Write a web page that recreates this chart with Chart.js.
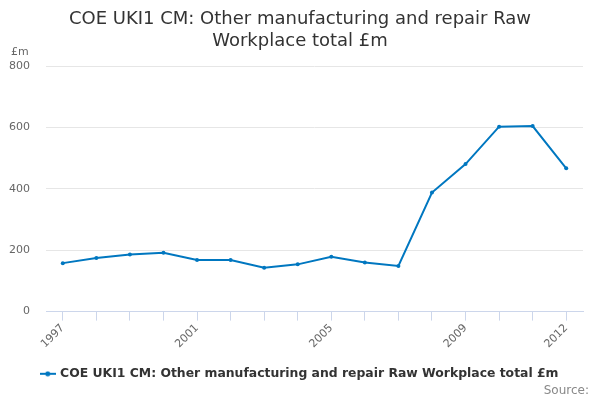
<!DOCTYPE html>
<html>
<head>
<meta charset="utf-8">
<script src="https://cdn.jsdelivr.net/npm/chart.js@4/dist/chart.umd.min.js"></script>
<style>
  body { margin: 0; background: #fff; }
  #wrap { width: 600px; height: 400px; position: relative; }
</style>
</head>
<body>
<div id="wrap"><canvas id="chart" width="600" height="400"></canvas></div>
<script>
// Chart data.
let years = ['1997', '1998', '1999', '2000', '2001', '2002', '2003', '2004',
             '2005', '2006', '2007', '2008', '2009', '2010', '2011', '2012'];
let workplaceTotal = [158, 175, 186, 192, 168, 168, 143, 154,
                      179, 160, 149, 388, 481, 603, 605, 467];
let yTicks = [0, 200, 400, 600, 800];
let seriesName = 'COE UKI1 CM: Other manufacturing and repair Raw Workplace total £m';

let lineColor = '#0077c0';
let fontFamily = '"DejaVu Sans", sans-serif';

// Legend marker: short line with a dot in the middle.
let marker = document.createElement('canvas');
marker.width = 16;
marker.height = 6;
let mctx = marker.getContext('2d');
mctx.strokeStyle = lineColor;
mctx.lineWidth = 2;
mctx.beginPath();
mctx.moveTo(0, 3);
mctx.lineTo(16, 3);
mctx.stroke();
mctx.fillStyle = lineColor;
mctx.beginPath();
mctx.arc(8, 3, 2.5, 0, Math.PI * 2);
mctx.fill();

// Draws the unit label above the y axis and the source note.
let extraText = {
  id: 'extraText',
  afterLayout(chart) {
    // centre title and legend on the whole canvas, not the padded box
    chart.legend.left += 6.5;
    chart.legend.right += 6.5;
    chart.titleBlock.left += 6.5;
    chart.titleBlock.right += 6.5;
  },
  afterDraw(chart) {
    let ctx = chart.ctx;
    let y = chart.scales.y;
    ctx.save();
    ctx.font = '11px ' + fontFamily;
    ctx.fillStyle = '#666';
    ctx.textAlign = 'left';
    ctx.textBaseline = 'middle';
    ctx.fillText('£m', 11, y.top - 14);
    ctx.font = '12px ' + fontFamily;
    ctx.fillStyle = '#888';
    ctx.textAlign = 'right';
    ctx.fillText('Source:', 589, 391);
    ctx.restore();
  }
};

let ctx = document.getElementById('chart');
let chart = new Chart(ctx, {
  type: 'line',
  data: {
    labels: years,
    datasets: [{
      label: seriesName,
      data: workplaceTotal,
      borderColor: lineColor,
      backgroundColor: lineColor,
      borderWidth: 2,
      pointRadius: 2,
      pointBackgroundColor: lineColor,
      pointBorderWidth: 0,
      tension: 0,
      fill: false
    }]
  },
  options: {
    responsive: false,
    animation: false,
    layout: { padding: { left: 4, right: 17, top: 0, bottom: 10 } },
    plugins: {
      title: {
        display: true,
        text: ['COE UKI1 CM: Other manufacturing and repair Raw', 'Workplace total £m'],
        color: '#333',
        font: { family: fontFamily, size: 18, weight: 'normal' },
        padding: { top: 9, bottom: 14 },
        lineHeight: 1.22
      },
      legend: {
        position: 'bottom',
        labels: {
          color: '#333',
          font: { family: fontFamily, size: 12.4, weight: 'bold' },
          usePointStyle: true,
          padding: 12,
          generateLabels(c) {
            let items = Chart.defaults.plugins.legend.labels.generateLabels(c);
            items.forEach(item => { item.pointStyle = marker; });
            return items;
          }
        }
      },
      tooltip: { enabled: false }
    },
    scales: {
      x: {
        offset: true,
        afterFit(scale) {
          scale.paddingLeft = 0;
          scale.paddingRight = 0;
          scale.height = 44;
        },
        grid: {
          display: true,
          drawOnChartArea: false,
          drawTicks: true,
          tickLength: 9,
          color: '#ccd6eb',
          offset: false
        },
        border: { display: true, color: '#ccd6eb' },
        ticks: {
          color: '#666',
          font: { family: fontFamily, size: 11 },
          maxRotation: 45,
          minRotation: 45,
          autoSkip: false,
          padding: 1,
          callback(value, index) {
            if (index % 4 === 0 || index === years.length - 1) {
              return years[index];
            }
            return '';
          }
        }
      },
      y: {
        min: 0,
        max: 800,
        afterBuildTicks(scale) {
          scale.ticks = yTicks.map(v => ({ value: v }));
        },
        afterFit(scale) {
          scale.width = 42;
        },
        grid: { color: '#e6e6e6', drawTicks: false },
        border: { display: false },
        ticks: {
          color: '#666',
          font: { family: fontFamily, size: 11 },
          padding: 16
        }
      }
    }
  },
  plugins: [extraText]
});
</script>
</body>
</html>
